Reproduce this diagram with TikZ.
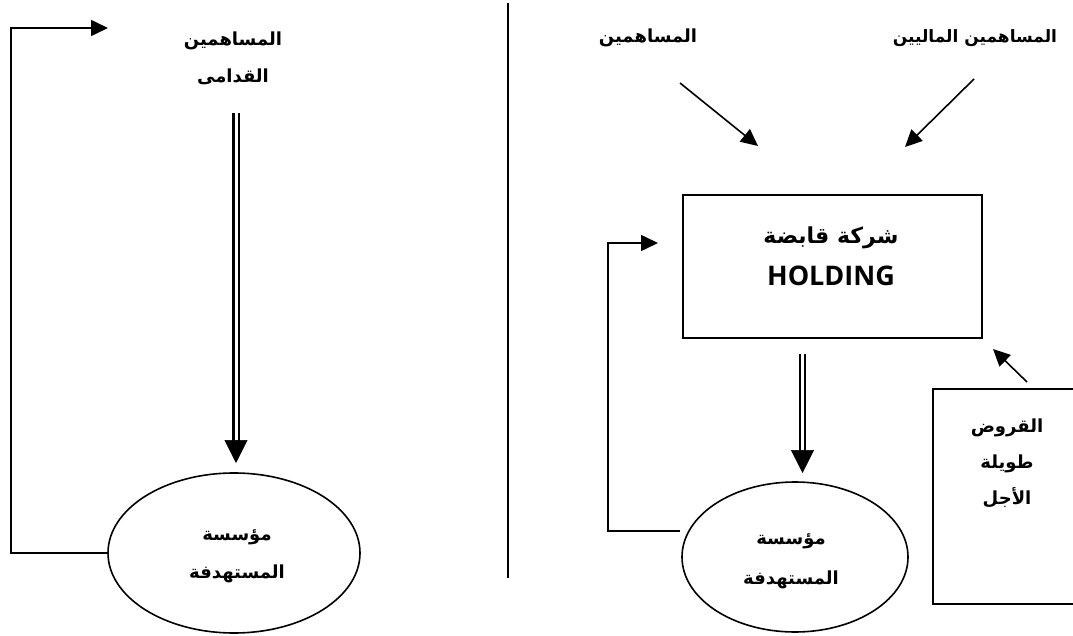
\documentclass[tikz,border=0pt]{standalone}
\usepackage{fontspec}
\usetikzlibrary{shapes.geometric,arrows.meta}
\TeXXeTstate=1
\newfontfamily\arabicfont[Script=Arabic]{DejaVu Sans}
\newfontfamily\latinfont{Open Sans}
\newcommand\artxt[1]{\beginR #1\endR}

\begin{document}
\begin{tikzpicture}[x=1pt,y=-1pt,
  line width=1.6pt,
  lbl/.style={font=\arabicfont\bfseries\fontsize{18}{37}\selectfont, align=center, inner sep=0pt},
  ell/.style={ellipse, draw, inner sep=0pt},
  boxnode/.style={rectangle, draw, inner sep=0pt},
  arr/.style={-{Triangle[length=17pt,width=16pt]}},
  bigtip/.style={-{Triangle[length=23pt,width=23pt]}},
  dbl/.style={double, double distance=3pt, line width=2.2pt}]

\useasboundingbox (0,0) rectangle (1073,636);

% ---------- left scheme ----------
\node[lbl] (oldsh) at (233,58) {\artxt{المساهمين}\\\artxt{القدامى}};
\node[ell, minimum width=252pt, minimum height=160pt] (lell) at (234,553) {};
\node[lbl, font=\arabicfont\bfseries\fontsize{18}{38}\selectfont] (lelltxt) at (237,556) {\artxt{مؤسسة}\\\artxt{المستهدفة}};

\coordinate (ld1) at (236,113);
\coordinate (ld2) at (236,441);
\coordinate (ltip) at (236,463);
\draw[dbl] (ld1) -- (ld2);
\draw[bigtip, line width=0.5pt] (ld2) -- (ltip);

\coordinate (lcorner) at (11,553);
\coordinate (lfb) at (108,28);
\draw[arr] (lell.west) -- (lcorner) |- (lfb);

% ---------- divider ----------
\coordinate (div1) at (508,3);
\coordinate (div2) at (508,578);
\draw (div1) -- (div2);

% ---------- right scheme ----------
\node[lbl] (sh) at (648,38) {\artxt{المساهمين}};
\node[lbl, font=\arabicfont\bfseries\fontsize{17}{37}\selectfont] (cursh) at (975,38) {\artxt{المساهمين الماليين}};

\coordinate (a1s) at (680,83);
\coordinate (a1e) at (758,146);
\coordinate (a2s) at (974,79);
\coordinate (a2e) at (905,147);
\draw[arr] (a1s) -- (a1e);
\draw[arr] (a2s) -- (a2e);

\node[boxnode, minimum width=299pt, minimum height=143pt] (hold) at (832.5,266.5) {};
\node[lbl, font=\fontsize{22}{42}\selectfont] (holdtxt) at (831,256)
  {{\arabicfont\bfseries\artxt{شركة قابضة}}\\{\latinfont\bfseries\fontsize{27}{42}\selectfont HOLDING}};

\node[ell, minimum width=226pt, minimum height=150pt] (rell) at (795,557) {};
\node[lbl, font=\arabicfont\bfseries\fontsize{18}{40}\selectfont] (relltxt) at (791,561) {\artxt{مؤسسة}\\\artxt{المستهدفة}};

\coordinate (rd1) at (802.5,354);
\coordinate (rd2) at (802.5,451);
\coordinate (rtip) at (802.5,473);
\draw[dbl] (rd1) -- (rd2);
\draw[bigtip, line width=0.5pt] (rd2) -- (rtip);

\coordinate (rfs) at (680,531);
\coordinate (rcorner) at (608,531);
\coordinate (rfb) at (658,243);
\draw[arr] (rfs) -- (rcorner) |- (rfb);

\node[boxnode, anchor=north west, minimum width=160pt, minimum height=215pt] (loans) at (932,388) {};
\node[lbl, font=\arabicfont\bfseries\fontsize{18}{36}\selectfont] (loanstxt) at (1007,463)
  {\artxt{القروض}\\\artxt{طويلة}\\\artxt{الأجل}};

\coordinate (a3s) at (1027,382);
\coordinate (a3e) at (993,349);
\draw[arr] (a3s) -- (a3e);
\end{tikzpicture}
\end{document}
